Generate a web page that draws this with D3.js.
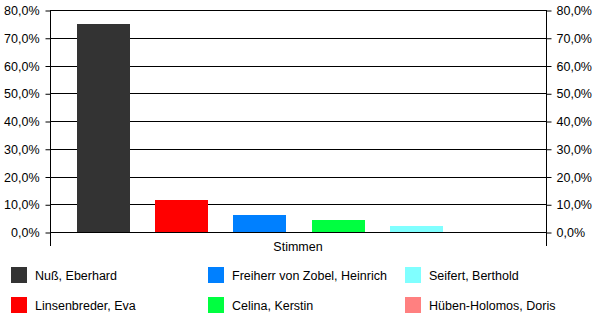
<!DOCTYPE html>
<html>
<head>
<meta charset="utf-8">
<script src="https://cdn.jsdelivr.net/npm/d3@7"></script>
<style>
  body { margin: 0; background: #fff; }
  svg text { font-family: "Liberation Sans", Arial, sans-serif; font-size: 12.5px; fill: #000; }
</style>
</head>
<body>
<svg id="chart" width="600" height="326"></svg>
<script>
// candidates and their share of votes (%)
var candidates = ["Nuß, Eberhard", "Linsenbreder, Eva", "Freiherr von Zobel, Heinrich",
                  "Celina, Kerstin", "Seifert, Berthold", "Hüben-Holomos, Doris"];
var shares = [75.0, 11.5, 6.1, 4.3, 2.2, 0.0];
var colors = ["#333333", "#ff0000", "#0080ff", "#00ff40", "#80ffff", "#ff8080"];
var category = "Stimmen";
var tickValues = [0, 10, 20, 30, 40, 50, 60, 70, 80];

var svg = d3.select("#chart");
// note: "top" is reserved on window, so plot edges get their own names
var plotL = 50, plotR = 546, plotT = 10, plotB = 232;

var y = d3.scaleLinear().domain([0, 80]).range([plotB, plotT]);
var x = d3.scaleBand().domain(candidates).range([plotL + 1, plotR + 1])
    .paddingInner(0.32).paddingOuter(0.33);

var fmt = function(d){ return d3.format(".1f")(d).replace(".", ",") + "%"; };

// gridlines
svg.append("g").selectAll("line")
    .data(tickValues)
    .enter().append("line")
    .attr("x1", plotL).attr("x2", plotR)
    .attr("y1", function(d){ return Math.round(y(d)) + 0.5; })
    .attr("y2", function(d){ return Math.round(y(d)) + 0.5; })
    .attr("stroke", "#000");

// bars
svg.append("g").selectAll("rect")
    .data(shares)
    .enter().append("rect")
    .attr("x", function(d, i){ return Math.round(x(candidates[i])); })
    .attr("width", Math.round(x.bandwidth()))
    .attr("y", function(d){ return Math.round(y(d)); })
    .attr("height", function(d){ return Math.round(plotB - y(d)); })
    .attr("fill", function(d, i){ return colors[i]; });

// left axis
var leftAxis = d3.axisLeft(y).tickValues(tickValues).tickFormat(fmt).tickSize(5).tickPadding(6);
var gl = svg.append("g").attr("transform", "translate(" + (plotL + 0.5) + ",0.5)").call(leftAxis);
// right axis
var rightAxis = d3.axisRight(y).tickValues(tickValues).tickFormat(fmt).tickSize(5).tickPadding(5);
var gr = svg.append("g").attr("transform", "translate(" + (plotR + 0.5) + ",0.5)").call(rightAxis);

[gl, gr].forEach(function(g){
    g.select(".domain").remove();
    g.selectAll(".tick line").attr("stroke", "#000");
    g.selectAll("text").style("font-size", "12.5px").attr("font-family", null);
});

// vertical axis lines, extending below the category axis
[plotL, plotR].forEach(function(px){
    svg.append("line")
        .attr("x1", px + 0.5).attr("x2", px + 0.5)
        .attr("y1", plotT).attr("y2", plotB + 14)
        .attr("stroke", "#000");
});

// category label
svg.append("text")
    .attr("x", (plotL + plotR) / 2)
    .attr("y", 251)
    .attr("text-anchor", "middle")
    .text(category);

// legend
var legendX = [11, 208, 405], legendY = [267, 297];
var legend = svg.append("g").selectAll("g")
    .data(candidates)
    .enter().append("g")
    .attr("transform", function(d, i){
        return "translate(" + legendX[Math.floor(i / 2)] + "," + legendY[i % 2] + ")";
    });
legend.append("rect")
    .attr("width", 16).attr("height", 16)
    .attr("fill", function(d, i){ return colors[i]; });
legend.append("text")
    .attr("x", 24).attr("y", 13)
    .text(function(d){ return d; });
</script>
</body>
</html>
